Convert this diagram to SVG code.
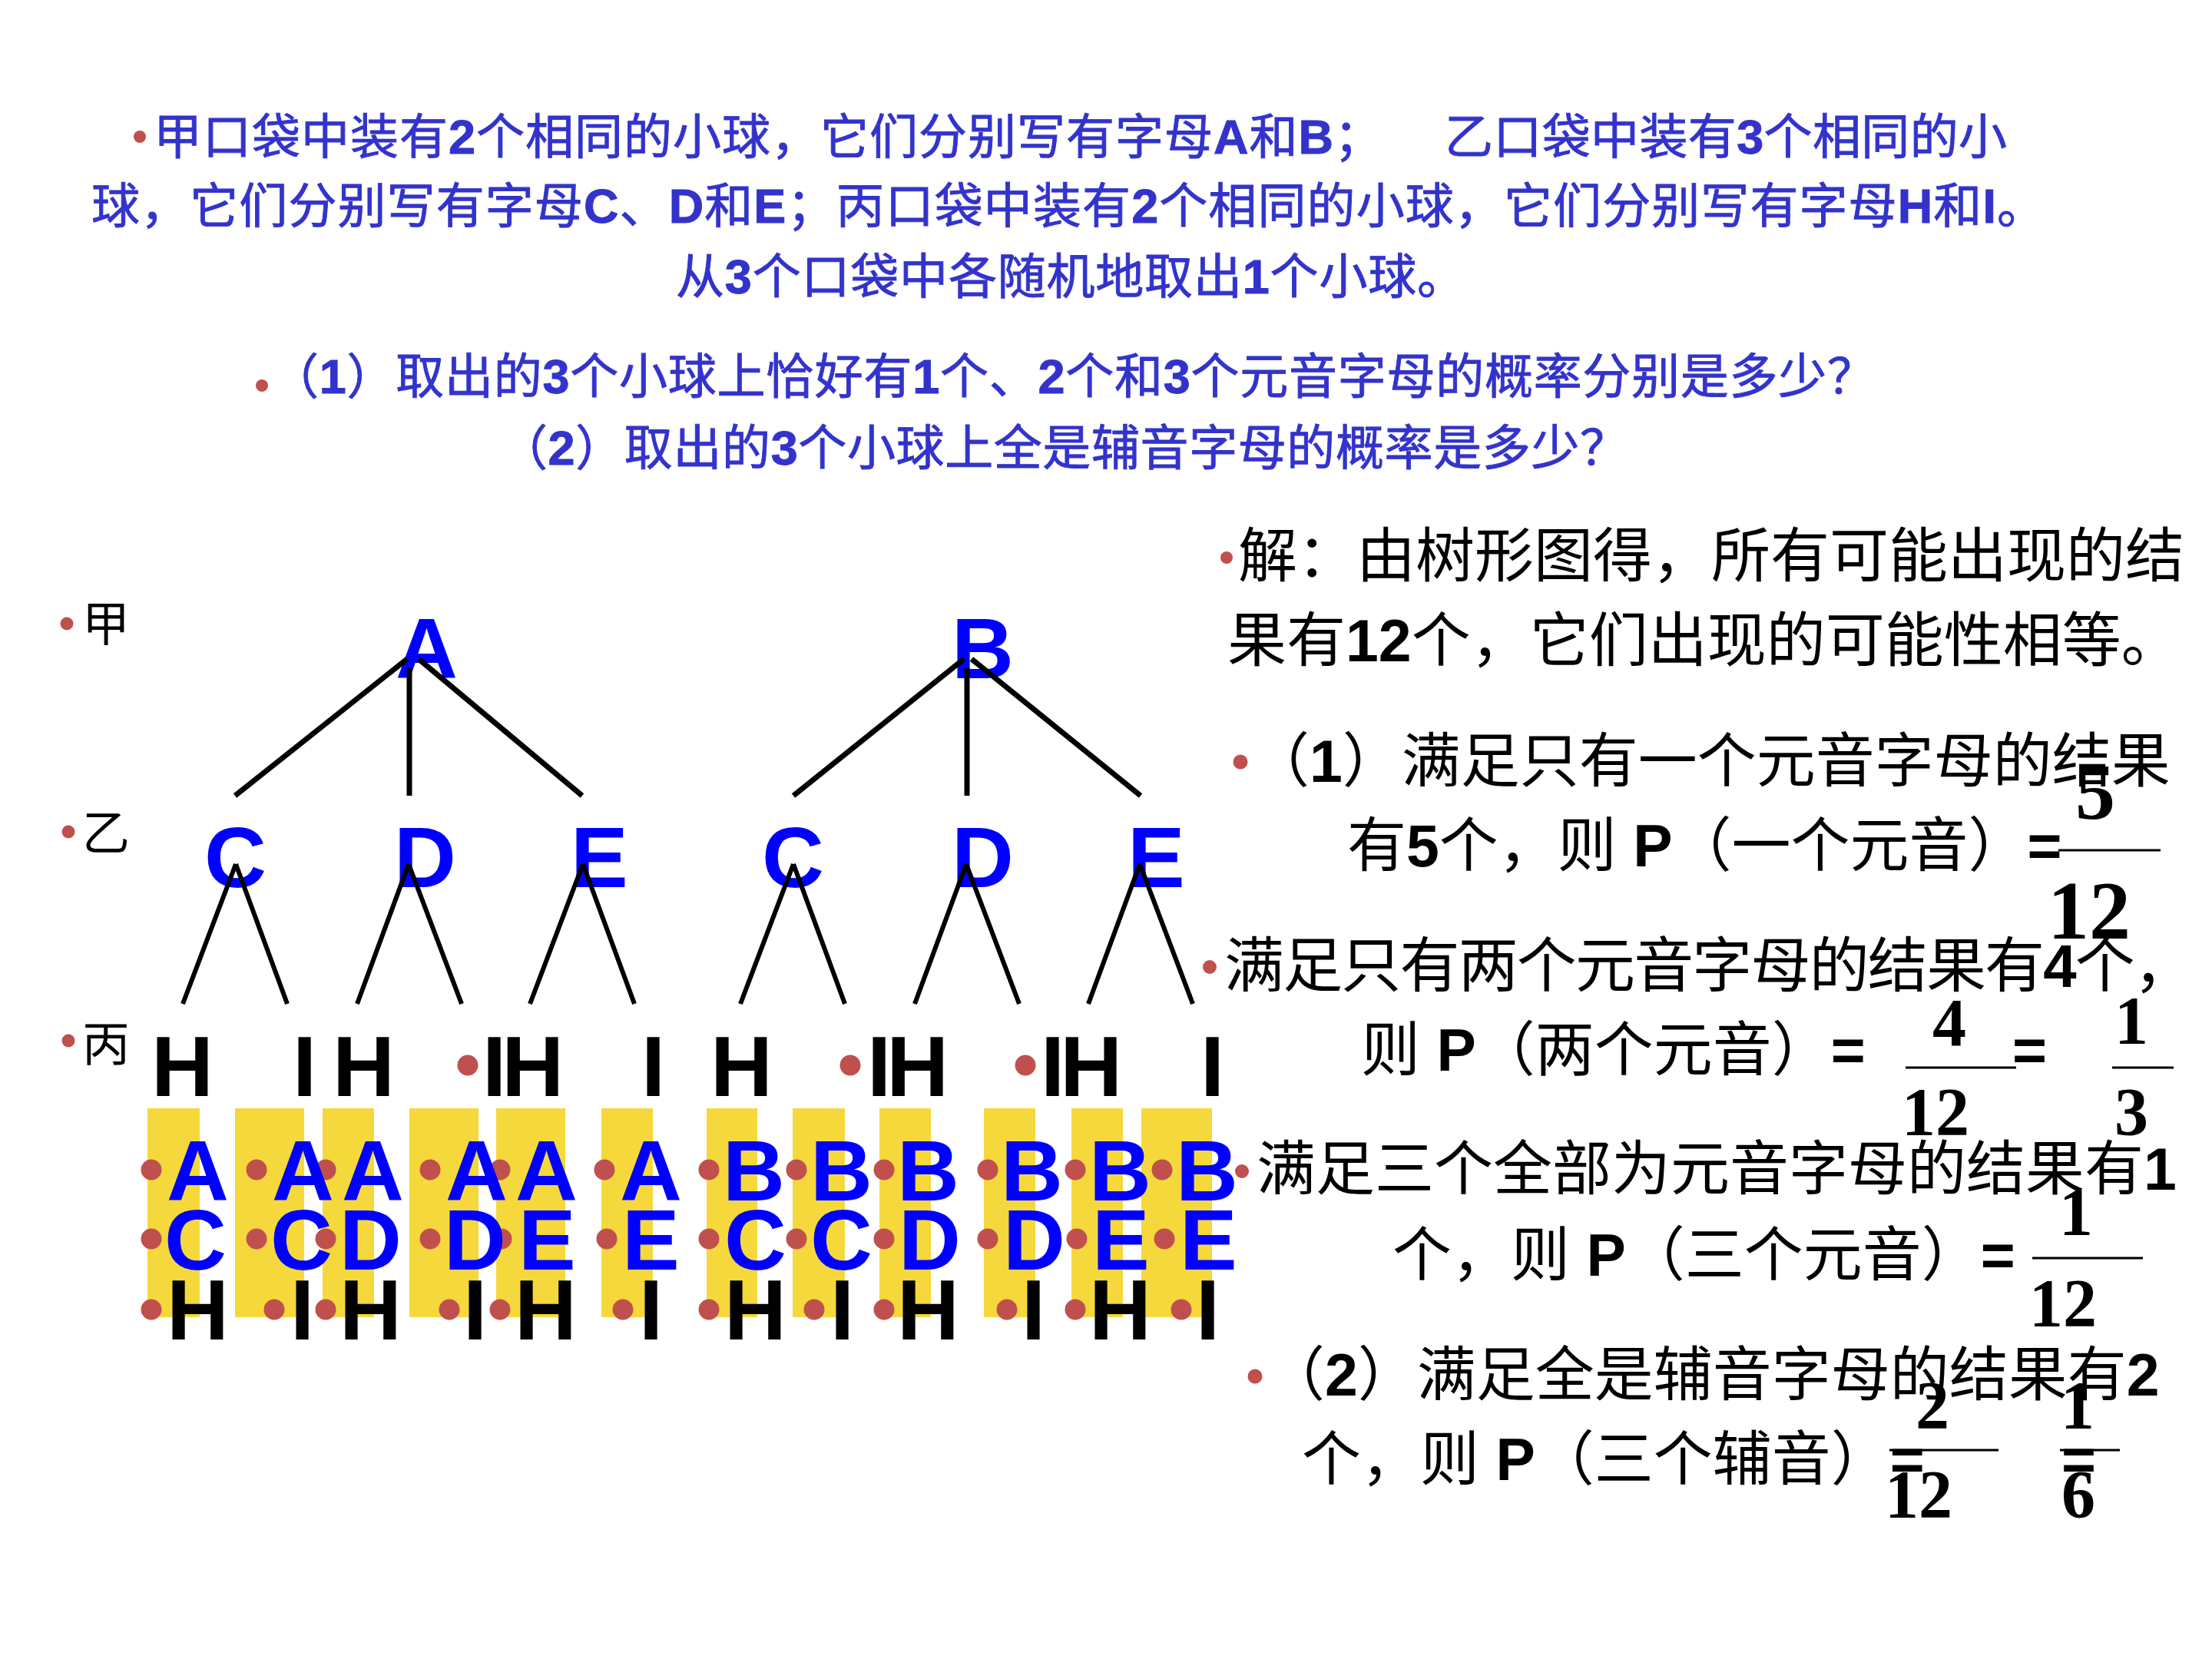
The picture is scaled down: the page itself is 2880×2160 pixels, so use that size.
<svg xmlns="http://www.w3.org/2000/svg" width="2880" height="2160" viewBox="0 0 2880 2160">
<defs>
<style>
.t{font-family:"Liberation Sans","Noto Sans CJK SC",sans-serif;font-weight:normal}
.blue{fill:#3333CC;stroke:#3333CC;stroke-width:0.9}
.k{fill:#000}
.b{font-weight:bold}
.big{font-family:"Liberation Sans",Arial,sans-serif;font-size:112px;font-weight:bold}
.lb{fill:#0000FF}
.dot{fill:#C0504D;stroke:none}
.fr{font-family:"Liberation Serif","Times New Roman",serif;font-weight:bold;text-anchor:middle;fill:#000}
.conn{stroke:#000;fill:none;stroke-linecap:butt}
.fl{stroke:#000;stroke-width:3}
.bar{fill:#F5D83C}
</style>
</defs>
<rect width="2880" height="2160" fill="#fff"/>

<g id="problem">
<circle class="dot" cx="182" cy="178" r="8"/>
<text class="t blue" font-size="63" x="200" y="200" textLength="1600" lengthAdjust="spacing">甲口袋中装有<tspan class="b">2</tspan>个相同的小球，它们分别写有字母<tspan class="b">A</tspan>和<tspan class="b">B</tspan>；</text>
<text class="t blue" font-size="63" x="1881" y="200" textLength="732" lengthAdjust="spacing">乙口袋中装有<tspan class="b">3</tspan>个相同的小</text>
<text class="t blue" font-size="63" x="119" y="290" textLength="2544" lengthAdjust="spacing">球，它们分别写有字母<tspan class="b">C</tspan>、<tspan class="b">D</tspan>和<tspan class="b">E</tspan>；丙口袋中装有<tspan class="b">2</tspan>个相同的小球，它们分别写有字母<tspan class="b">H</tspan>和<tspan class="b">I</tspan>。</text>
<text class="t blue" font-size="63" x="880" y="382" textLength="1028" lengthAdjust="spacing">从<tspan class="b">3</tspan>个口袋中各随机地取出<tspan class="b">1</tspan>个小球。</text>
<circle class="dot" cx="341" cy="502" r="8"/>
<text class="t blue" font-size="63" x="352" y="512" textLength="2090" lengthAdjust="spacing">（<tspan class="b">1</tspan>）取出的<tspan class="b">3</tspan>个小球上恰好有<tspan class="b">1</tspan>个、<tspan class="b">2</tspan>个和<tspan class="b">3</tspan>个元音字母的概率分别是多少？</text>
<text class="t blue" font-size="63" x="650" y="605" textLength="1470" lengthAdjust="spacing">（<tspan class="b">2</tspan>）取出的<tspan class="b">3</tspan>个小球上全是辅音字母的概率是多少？</text>
</g>

<g id="level-labels">
<circle class="dot" cx="87" cy="812" r="8.5"/>
<text class="t k" font-size="62" x="107" y="835">甲</text>
<circle class="dot" cx="89" cy="1083" r="8.5"/>
<text class="t k" font-size="62" x="107" y="1107">乙</text>
<circle class="dot" cx="89" cy="1355" r="8.5"/>
<text class="t k" font-size="62" x="107" y="1382">丙</text>
</g>

<g id="outcome-bars">
<rect class="bar" x="192" y="1443" width="68" height="272"/>
<rect class="bar" x="306" y="1443" width="90" height="272"/>
<rect class="bar" x="420" y="1443" width="67" height="272"/>
<rect class="bar" x="533" y="1443" width="90" height="272"/>
<rect class="bar" x="646" y="1443" width="90" height="272"/>
<rect class="bar" x="783" y="1443" width="67" height="272"/>
<rect class="bar" x="920" y="1443" width="66" height="272"/>
<rect class="bar" x="1032" y="1443" width="68" height="272"/>
<rect class="bar" x="1145" y="1443" width="67" height="272"/>
<rect class="bar" x="1281" y="1443" width="67" height="272"/>
<rect class="bar" x="1395" y="1443" width="67" height="272"/>
<rect class="bar" x="1486" y="1443" width="92" height="272"/>
</g>

<g id="node-A"><text class="big lb" x="515" y="883">A</text></g>
<g id="node-B"><text class="big lb" x="1239" y="883">B</text></g>

<g id="node-A-C"><text class="big lb" x="266" y="1155">C</text></g>
<g id="node-A-D"><text class="big lb" x="513" y="1155">D</text></g>
<g id="node-A-E"><text class="big lb" x="743" y="1155">E</text></g>
<g id="node-B-C"><text class="big lb" x="992" y="1155">C</text></g>
<g id="node-B-D"><text class="big lb" x="1239" y="1155">D</text></g>
<g id="node-B-E"><text class="big lb" x="1468" y="1155">E</text></g>

<g id="leaf-1"><text class="big k" x="197" y="1427">H</text></g>
<g id="leaf-2"><text class="big k" x="381" y="1427">I</text></g>
<g id="leaf-3"><text class="big k" x="433" y="1427">H</text></g>
<g id="leaf-4-5"><circle class="dot" cx="609" cy="1387" r="13.5"/><text class="big k" x="628" y="1427">I<tspan dx="-6">H</tspan></text></g>
<g id="leaf-6"><text class="big k" x="835" y="1427">I</text></g>
<g id="leaf-7"><text class="big k" x="925" y="1427">H</text></g>
<g id="leaf-8-9"><circle class="dot" cx="1107" cy="1387" r="13.5"/><text class="big k" x="1129" y="1427">I<tspan dx="-6">H</tspan></text></g>
<g id="leaf-10-11"><circle class="dot" cx="1335" cy="1387" r="13.5"/><text class="big k" x="1355" y="1427">I<tspan dx="-6">H</tspan></text></g>
<g id="leaf-12"><text class="big k" x="1563" y="1427">I</text></g>

<g id="connectors">
<g class="conn" stroke-width="7">
<path d="M530 858 L306 1036"/>
<path d="M533 870 V1036"/>
<path d="M545 858 L758 1036"/>
<path d="M1255 858 L1033 1036"/>
<path d="M1259 870 V1036"/>
<path d="M1265 858 L1485 1036"/>
</g>
<g class="conn" stroke-width="6">
<path d="M307 1125 L238 1307 M307 1125 L374 1307"/>
<path d="M532 1125 L465 1307 M532 1125 L601 1307"/>
<path d="M759 1125 L690 1307 M759 1125 L826 1307"/>
<path d="M1033 1125 L964 1307 M1033 1125 L1100 1307"/>
<path d="M1258 1125 L1191 1307 M1258 1125 L1327 1307"/>
<path d="M1484 1125 L1417 1307 M1484 1125 L1553 1307"/>
</g>
</g>

<g id="outcomes">
<g id="outcome-bullets">
<circle class="dot" cx="197" cy="1523" r="13.5"/><circle class="dot" cx="334" cy="1523" r="13.5"/><circle class="dot" cx="424" cy="1523" r="13.5"/><circle class="dot" cx="560" cy="1523" r="13.5"/><circle class="dot" cx="651" cy="1523" r="13.5"/><circle class="dot" cx="787" cy="1523" r="13.5"/><circle class="dot" cx="923" cy="1523" r="13.5"/><circle class="dot" cx="1037" cy="1523" r="13.5"/><circle class="dot" cx="1151" cy="1523" r="13.5"/><circle class="dot" cx="1286" cy="1523" r="13.5"/><circle class="dot" cx="1400" cy="1523" r="13.5"/><circle class="dot" cx="1513" cy="1523" r="13.5"/>
<circle class="dot" cx="197" cy="1613" r="13.5"/><circle class="dot" cx="334" cy="1613" r="13.5"/><circle class="dot" cx="424" cy="1613" r="13.5"/><circle class="dot" cx="560" cy="1613" r="13.5"/><circle class="dot" cx="653" cy="1613" r="13.5"/><circle class="dot" cx="790" cy="1613" r="13.5"/><circle class="dot" cx="923" cy="1613" r="13.5"/><circle class="dot" cx="1037" cy="1613" r="13.5"/><circle class="dot" cx="1151" cy="1613" r="13.5"/><circle class="dot" cx="1286" cy="1613" r="13.5"/><circle class="dot" cx="1402" cy="1613" r="13.5"/><circle class="dot" cx="1516" cy="1613" r="13.5"/>
<circle class="dot" cx="197" cy="1705" r="13.5"/><circle class="dot" cx="357" cy="1705" r="13.5"/><circle class="dot" cx="424" cy="1705" r="13.5"/><circle class="dot" cx="585" cy="1705" r="13.5"/><circle class="dot" cx="651" cy="1705" r="13.5"/><circle class="dot" cx="811" cy="1705" r="13.5"/><circle class="dot" cx="923" cy="1705" r="13.5"/><circle class="dot" cx="1060" cy="1705" r="13.5"/><circle class="dot" cx="1151" cy="1705" r="13.5"/><circle class="dot" cx="1311" cy="1705" r="13.5"/><circle class="dot" cx="1400" cy="1705" r="13.5"/><circle class="dot" cx="1538" cy="1705" r="13.5"/>
</g>
<g id="outcome-row-1">
<text class="big lb" x="217" y="1563">A</text><text class="big lb" x="354" y="1563">A</text><text class="big lb" x="445" y="1563">A</text><text class="big lb" x="580" y="1563">A</text><text class="big lb" x="671" y="1563">A</text><text class="big lb" x="807" y="1563">A</text><text class="big lb" x="941" y="1563">B</text><text class="big lb" x="1055" y="1563">B</text><text class="big lb" x="1168" y="1563">B</text><text class="big lb" x="1303" y="1563">B</text><text class="big lb" x="1418" y="1563">B</text><text class="big lb" x="1531" y="1563">B</text>
</g>
<g id="outcome-row-2">
<text class="big lb" x="214" y="1653">C</text><text class="big lb" x="352" y="1653">C</text><text class="big lb" x="442" y="1653">D</text><text class="big lb" x="578" y="1653">D</text><text class="big lb" x="675" y="1653">E</text><text class="big lb" x="810" y="1653">E</text><text class="big lb" x="943" y="1653">C</text><text class="big lb" x="1055" y="1653">C</text><text class="big lb" x="1170" y="1653">D</text><text class="big lb" x="1306" y="1653">D</text><text class="big lb" x="1422" y="1653">E</text><text class="big lb" x="1536" y="1653">E</text>
</g>
<g id="outcome-row-3">
<text class="big k" x="217" y="1744">H</text><text class="big k" x="378" y="1744">I</text><text class="big k" x="442" y="1744">H</text><text class="big k" x="603" y="1744">I</text><text class="big k" x="670" y="1744">H</text><text class="big k" x="832" y="1744">I</text><text class="big k" x="943" y="1744">H</text><text class="big k" x="1081" y="1744">I</text><text class="big k" x="1168" y="1744">H</text><text class="big k" x="1330" y="1744">I</text><text class="big k" x="1418" y="1744">H</text><text class="big k" x="1557" y="1744">I</text>
</g>
</g>

<g id="solution">
<circle class="dot" cx="1597" cy="726" r="8"/>
<text class="t k" font-size="77" x="1612" y="751">解：由树形图得，所有可能出现的结</text>
<text class="t k" font-size="77" x="1598" y="861">果有<tspan class="b">12</tspan>个，它们出现的可能性相等。</text>

<circle class="dot" cx="1615" cy="992" r="9.5"/>
<text class="t k" font-size="77" x="1628" y="1018">（<tspan class="b">1</tspan>）满足只有一个元音字母的结果</text>
<text class="t k" font-size="77" x="1754" y="1128">有<tspan class="b">5</tspan>个，则 <tspan class="b">P</tspan>（一个元音）<tspan class="b">=</tspan></text>
<text class="fr" font-size="104" x="2728" y="1066">5</text>
<line class="fl" x1="2680" y1="1107" x2="2813" y2="1107"/>
<text class="fr" font-size="108" x="2720" y="1222">12</text>

<circle class="dot" cx="1575" cy="1259" r="9"/>
<text class="t k" font-size="78" x="1594" y="1285" textLength="1262" lengthAdjust="spacing">满足只有两个元音字母的结果有<tspan class="b">4</tspan>个，</text>
<text class="t k" font-size="77" x="1772" y="1394">则 <tspan class="b">P</tspan>（两个元音）<tspan class="b">=</tspan></text>
<text class="fr" font-size="88" x="2538" y="1361">4</text>
<line class="fl" x1="2481" y1="1390" x2="2625" y2="1390"/>
<text class="fr" font-size="88" x="2520" y="1477">12</text>
<text class="t k b" font-size="77" x="2620" y="1394">=</text>
<text class="fr" font-size="88" x="2775" y="1358">1</text>
<line class="fl" x1="2750" y1="1390" x2="2830" y2="1390"/>
<text class="fr" font-size="88" x="2775" y="1477">3</text>

<circle class="dot" cx="1617" cy="1525" r="9"/>
<text class="t k" font-size="77" x="1636" y="1549">满足三个全部为元音字母的结果有<tspan class="b">1</tspan></text>
<text class="t k" font-size="77" x="1813" y="1661">个，则 <tspan class="b">P</tspan>（三个元音）<tspan class="b">=</tspan></text>
<text class="fr" font-size="88" x="2703" y="1607">1</text>
<line class="fl" x1="2646" y1="1638" x2="2790" y2="1638"/>
<text class="fr" font-size="88" x="2686" y="1726">12</text>

<circle class="dot" cx="1634" cy="1792" r="9.5"/>
<text class="t k" font-size="77" x="1648" y="1817">（<tspan class="b">2</tspan>）满足全是辅音字母的结果有<tspan class="b">2</tspan></text>
<text class="t k" font-size="77" x="1695" y="1927">个，则 <tspan class="b">P</tspan>（三个辅音）<tspan class="b">=</tspan></text>
<text class="fr" font-size="88" x="2516" y="1859">2</text>
<line class="fl" x1="2460" y1="1888" x2="2602" y2="1888"/>
<text class="fr" font-size="88" x="2498" y="1975">12</text>
<text class="t k b" font-size="77" x="2684" y="1927">=</text>
<text class="fr" font-size="88" x="2705" y="1859">1</text>
<line class="fl" x1="2682" y1="1888" x2="2760" y2="1888"/>
<text class="fr" font-size="88" x="2706" y="1975">6</text>
</g>
</svg>
